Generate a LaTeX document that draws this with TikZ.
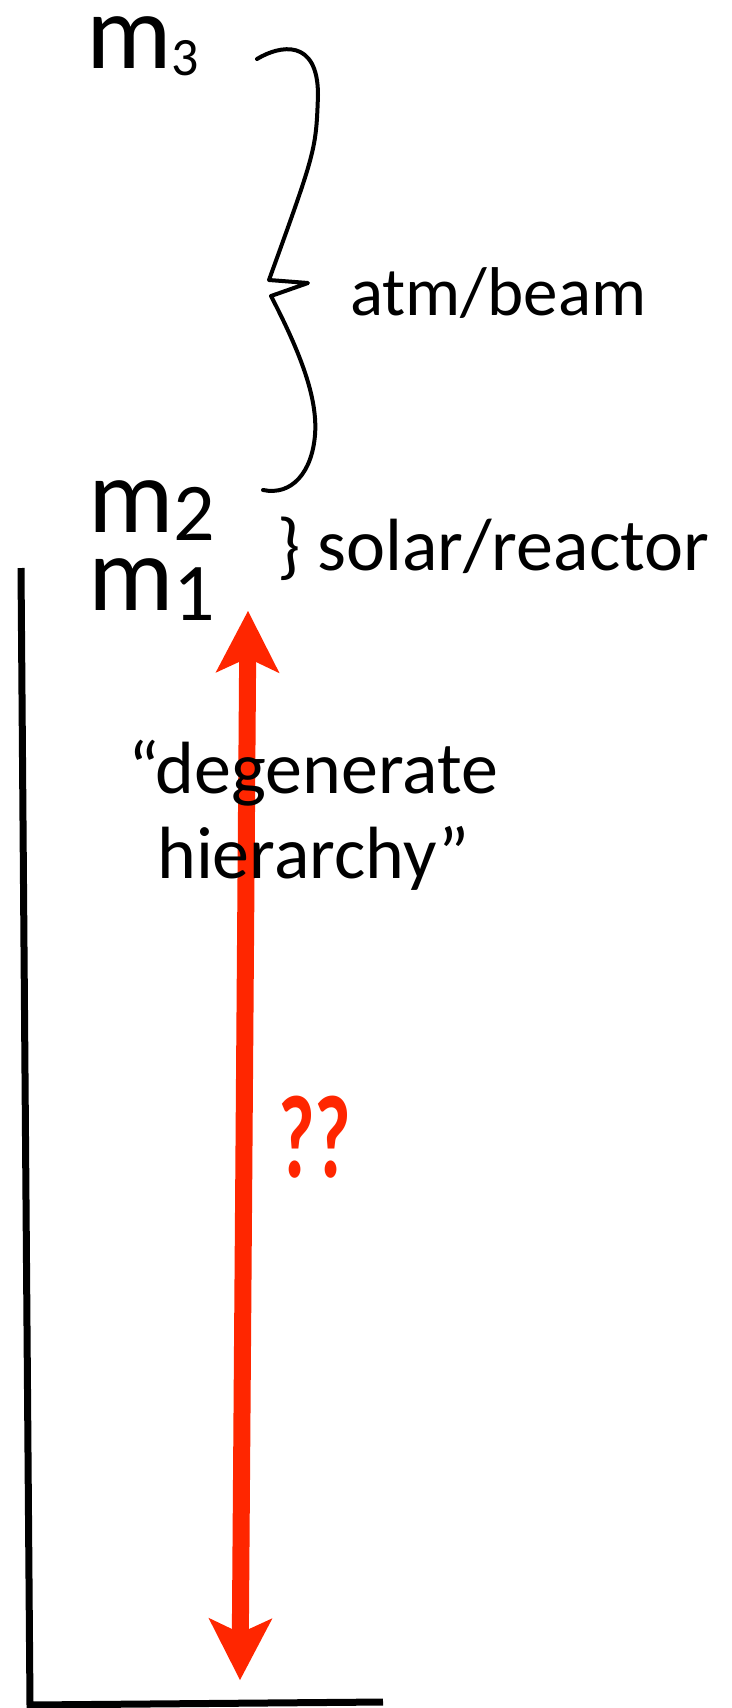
\documentclass[tikz,border=0pt]{standalone}
\usepackage{fontspec}
\setmainfont{Carlito}
\usetikzlibrary{arrows.meta}

\newlength{\du}
\setlength{\du}{1pt}

\begin{document}
\begin{tikzpicture}[
  lbl/.style={inner sep=0pt,anchor=base west},
  ctrlbl/.style={inner sep=0pt,anchor=base},
  mfont/.style={font=\fontsize{107}{107}\selectfont,text height=56pt,text depth=12pt},
  txtfont/.style={font=\fontsize{74}{85}\selectfont},
  axisline/.style={draw=dialinecolor,line width=7pt,miter limit=4,line join=miter},
  bracestroke/.style={draw=dialinecolor,line width=4pt,line join=round,line cap=round},
  redarrow/.style={draw=arrowred,line width=17pt,
    {Stealth[length=62pt,width=64pt,inset=15pt,line width=0pt]}-{Stealth[length=62pt,width=64pt,inset=15pt,line width=0pt]}},
]
\pgftransformxscale{1.000000}
\pgftransformyscale{-1.000000}
\useasboundingbox (0\du,0\du) rectangle (731\du,1708\du);
\definecolor{dialinecolor}{rgb}{0.000000, 0.000000, 0.000000}
\definecolor{arrowred}{rgb}{1.000000, 0.149020, 0.000000}
% axis
\draw[axisline] (21.000000\du,568.000000\du)--(30.000000\du,1705.000000\du)--(383.000000\du,1702.000000\du);
% big brace
\draw[bracestroke] (257.000000\du,59.000000\du) .. controls (280.000000\du,45.000000\du) and (318.000000\du,38.000000\du) .. (318.000000\du,95.000000\du)
  .. controls (316.000000\du,150.000000\du) .. (269.000000\du,280.000000\du)
  --(308.000000\du,283.000000\du)--(271.000000\du,296.000000\du)
  .. controls (300.000000\du,352.000000\du) and (318.000000\du,398.000000\du) .. (315.000000\du,435.000000\du)
  .. controls (312.000000\du,472.000000\du) and (292.000000\du,496.000000\du) .. (263.000000\du,490.000000\du);
% setfont left to latex
\node[lbl,mfont] (m3lbl) at (86.000000\du,68.000000\du){m\raisebox{-7pt}{\fontsize{54}{54}\selectfont 3}};
% setfont left to latex
\node[lbl,mfont] (m2lbl) at (88.000000\du,532.000000\du){m\raisebox{-8pt}{\fontsize{82}{82}\selectfont 2}};
% setfont left to latex
\node[lbl,mfont] (m1lbl) at (88.000000\du,610.000000\du){m\raisebox{-10pt}{\fontsize{82}{82}\selectfont 1}};
% setfont left to latex
\node[lbl,font=\fontsize{69}{69}\selectfont] (atmlbl) at (350.000000\du,315.000000\du){atm/beam};
% setfont left to latex
\node[lbl,txtfont] (sollbl) at (277.000000\du,570.000000\du){\} solar/reactor};
% the red arrow
\coordinate (uptip) at (248.000000\du,611.000000\du);
\coordinate (downtip) at (240.000000\du,1680.000000\du);
\draw[redarrow] (downtip)--(uptip);
% setfont left to latex
\node[ctrlbl,txtfont] (deg1) at (313.000000\du,793.000000\du){“degenerate};
\node[ctrlbl,txtfont] (deg2) at (313.500000\du,878.000000\du){hierarchy”};
% setfont left to latex
\node[ctrlbl,text=arrowred,font=\fontsize{118}{118}\selectfont\bfseries] (qqlbl) at (315.000000\du,1177.000000\du){\scalebox{0.67}[1]{??}};
\end{tikzpicture}
\end{document}
